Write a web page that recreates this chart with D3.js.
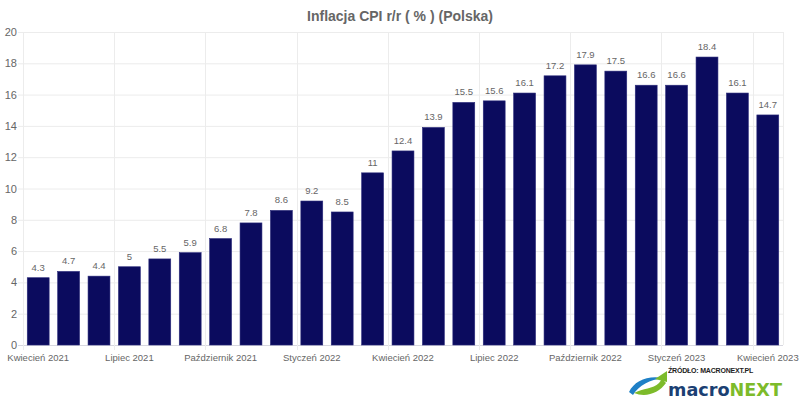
<!DOCTYPE html>
<html><head><meta charset="utf-8">
<script src="https://cdn.jsdelivr.net/npm/d3@7"></script>
<style>body{margin:0;background:#fff}svg{display:block;font-family:Arial,"Liberation Sans",sans-serif}</style>
</head><body><svg id="c" width="800" height="400"></svg>
<script>
const months = ["Kwiecień 2021","Maj 2021","Czerwiec 2021","Lipiec 2021","Sierpień 2021","Wrzesień 2021","Październik 2021","Listopad 2021","Grudzień 2021","Styczeń 2022","Luty 2022","Marzec 2022","Kwiecień 2022","Maj 2022","Czerwiec 2022","Lipiec 2022","Sierpień 2022","Wrzesień 2022","Październik 2022","Listopad 2022","Grudzień 2022","Styczeń 2023","Luty 2023","Marzec 2023","Kwiecień 2023"];
const values = [4.3,4.7,4.4,5,5.5,5.9,6.8,7.8,8.6,9.2,8.5,11,12.4,13.9,15.5,15.6,16.1,17.2,17.9,17.5,16.6,16.6,18.4,16.1,14.7];
const yTicks = [0,2,4,6,8,10,12,14,16,18,20];
const title = "Inflacja CPI r/r ( % ) (Polska)";

const svg = d3.select("#c");
const L = 23, R = 783, T = 32, B = 345;
const x = d3.scaleBand().domain(months).range([L, R]).paddingInner(0).paddingOuter(0);
const y = d3.scaleLinear().domain([0, 20]).range([B, T]);
const bw = x.bandwidth() * 0.72;

// horizontal grid
svg.append("g").selectAll("line").data(yTicks).join("line")
  .attr("x1", L - 5).attr("x2", R).attr("y1", d => y(d) + 0.5).attr("y2", d => y(d) + 0.5)
  .attr("stroke", d => d === 0 ? "#d8d8e0" : "#ececec").attr("stroke-width", 1);
// vertical grid at every 3rd category boundary
const vIdx = months.map((m, i) => i).filter(i => i % 3 === 0);
svg.append("g").selectAll("line").data(vIdx).join("line")
  .attr("x1", i => Math.round(x(months[i])) + 0.5).attr("x2", i => Math.round(x(months[i])) + 0.5)
  .attr("y1", T).attr("y2", B + 5)
  .attr("stroke", "#ececec");
svg.append("line").attr("x1", R + 0.5).attr("x2", R + 0.5).attr("y1", T).attr("y2", B).attr("stroke", "#ececec");

// y labels
svg.append("g").selectAll("text").data(yTicks).join("text")
  .attr("x", 17).attr("y", d => y(d) + 4).attr("text-anchor", "end")
  .attr("font-size", 11).attr("fill", "#666").text(d => d);

// bars
svg.append("g").selectAll("rect").data(values).join("rect")
  .attr("x", (d, i) => x(months[i]) + (x.bandwidth() - bw) / 2)
  .attr("width", bw)
  .attr("y", d => y(d)).attr("height", d => y(0) - y(d))
  .attr("fill", "#0b0b5e").attr("stroke", "#2a2a7a").attr("stroke-width", 0.6);

// value labels
svg.append("g").selectAll("text").data(values).join("text")
  .attr("x", (d, i) => x(months[i]) + x.bandwidth() / 2)
  .attr("y", d => y(d) - 7).attr("text-anchor", "middle")
  .attr("font-size", 9.5).attr("fill", "#666").text(d => d);

// x labels
svg.append("g").selectAll("text").data(vIdx).join("text")
  .attr("x", i => x(months[i]) + x.bandwidth() / 2)
  .attr("y", 361).attr("text-anchor", "middle")
  .attr("font-size", 9.5).attr("fill", "#666").text(i => months[i]);

// title
svg.append("text").attr("x", 400).attr("y", 21).attr("text-anchor", "middle")
  .attr("font-size", 14).attr("font-weight", "bold").attr("fill", "#666").text(title);

// logo
const lg = svg.append("g");
lg.append("path").attr("d", "M629,392 C634,381 648,375 663,378 C650,380 639,385 633,395 Z").attr("fill", "#1f80c6");
lg.append("path").attr("d", "M634,393 C643,388 653,389 659,383 L662,379 L666,383 C659,393 646,398 634,393 Z").attr("fill", "#7dbb2a");
lg.append("path").attr("d", "M655,379 L667,371 L667,382 Z").attr("fill", "#7dbb2a");
lg.append("text").attr("x", 668).attr("y", 373).attr("font-size", 7).attr("font-weight", "bold")
  .attr("fill", "#222").attr("letter-spacing", -0.2).text("ŹRÓDŁO: MACRONEXT.PL");
const t = lg.append("text").attr("x", 668).attr("y", 396).attr("font-size", 18).attr("font-weight", "bold")
  .attr("font-family", "'DejaVu Sans Condensed','Liberation Sans Narrow',Arial").attr("textLength", 114).attr("lengthAdjust", "spacingAndGlyphs");
t.append("tspan").attr("fill", "#1b3f73").text("macro");
t.append("tspan").attr("fill", "#7dbb2a").text("NEXT");
</script></body></html>
